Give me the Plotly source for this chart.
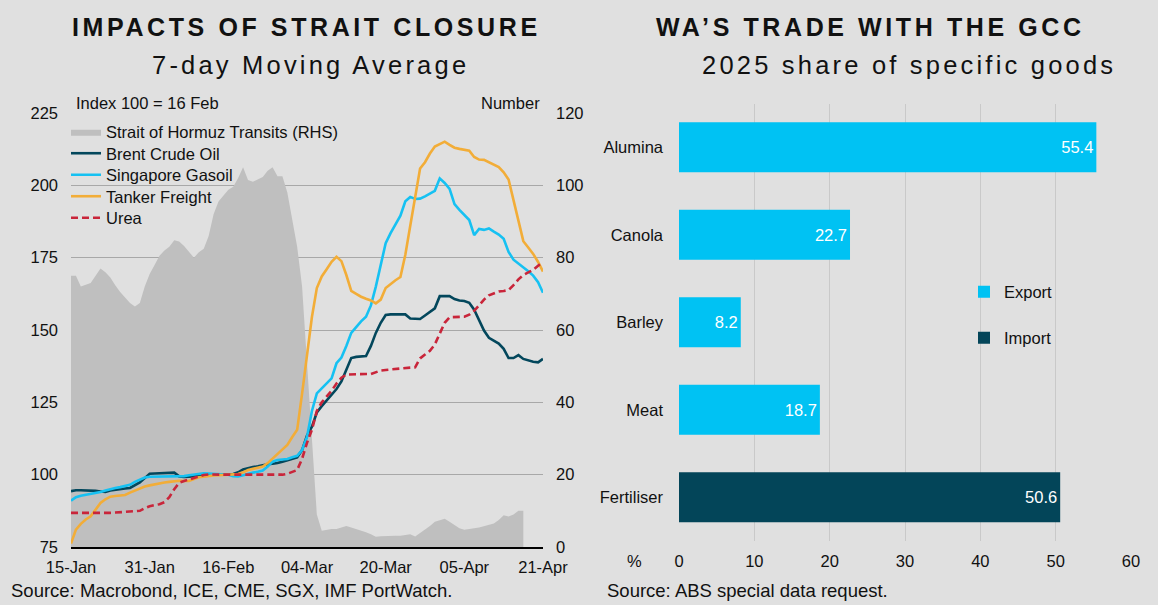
import pandas as pd
import plotly.graph_objects as go

# ---------------- data: left chart (daily, 15-Jan to 21-Apr) ----------------
start_date = "2026-01-15"
end_date = "2026-04-21"
dates = pd.date_range(start_date, end_date, freq="D")

hormuz_transits = [75, 75, 72, 72.5, 73, 75, 77, 76, 74.5, 72.4,
                   70.5, 69, 67.5, 66.5, 67.5, 72, 75.5, 78, 80.5, 82,
                   83, 84.8, 84.5, 83.2, 81.6, 80, 81.5, 82.5, 86, 92,
                   95.5, 97, 98.8, 99.6, 102, 105, 101.5, 101, 101.7, 102.3,
                   104, 105, 102.5, 102.5, 98, 90, 83, 72, 50, 28,
                   9, 4.5, 4.8, 5, 5, 5.5, 5.8, 5.4, 5, 4.6,
                   4.1, 3.5, 2.8, 3, 3.1, 3.1, 3.1, 3.1, 3.2, 3.5,
                   2.9, 3.8, 4.8, 5.8, 7, 7.5, 7.8, 7, 6, 5.2,
                   4.8, 4.9, 5.2, 5.4, 5.7, 6.1, 6.5, 7.5, 8.8, 8.4,
                   9, 10, 10]

brent = [94.3, 94.6, 94.6, 94.6, 94.5, 94.4, 94.2, 94.0, 94.5, 94.8,
         95, 95.2, 95.4, 96.3, 97.3, 98.8, 100.3, 100.4, 100.5, 100.6,
         100.6, 100.7, 99.4, 99.2, 99.3, 99.5, 99.7, 99.9, 100.1, 100.1,
         100.0, 99.9, 100, 100.2, 100.8, 101.8, 102.3, 102.6, 102.9, 103.3,
         103.6, 103.8, 104, 104.5, 105.0, 105.6, 106.0, 108.5, 113.5, 116.6,
         121.5, 123.7, 125.8, 127.6, 129.6, 132.2, 136, 140.3, 140.7, 140.9,
         141, 144.5, 149, 152.5, 155.2, 155.4, 155.4, 155.4, 155.4, 154,
         153.8, 153.8, 155, 156.3, 157.5, 161.7, 161.7, 161.7, 160.7, 160.2,
         160, 159.4, 157, 153.5, 149.8, 147.3, 146.3, 145.3, 143.5, 140.3,
         140.3, 141.3, 140, 139.5, 139, 138.8, 140]

sing_gasoil = [91.0, 92.2, 92.7, 93.0, 93.3, 93.6, 94.0, 94.5, 95.0, 95.4,
               95.7, 96.0, 96.5, 97.5, 98.2, 99.0, 99.3, 99.3, 99.4, 99.5,
               99.5, 99.4, 99.3, 99.5, 99.8, 100.1, 100.4, 100.5, 100.4, 100.3,
               100.2, 100.1, 100, 99.5, 99.4, 99.8, 100.3, 100.7, 101, 101.4,
               102.8, 104.5, 105.1, 105.2, 105.4, 106, 106.5, 108.5, 113, 122,
               128.1, 129.8, 131.5, 133.3, 138.5, 140.5, 144.5, 149, 151, 153,
               154.6, 158.5, 165, 172, 180, 183.5, 186.5, 189.5, 194.5, 196,
               195.3, 195.4, 196.2, 197.2, 198.1, 202.4, 200.8, 198.8, 193.5, 191.5,
               189.8, 188, 182.8, 184.9, 184.6, 185.1, 184, 183, 181.5, 177,
               174.3, 173, 171.8, 170.3, 168.8, 166.5, 162.9]

tanker_freight = [76.2, 81, 83, 84.5, 85.6, 88, 90.2, 91.5, 92.4, 92.6,
                  92.8, 93, 93.8, 94.5, 95.2, 95.9, 96.3, 96.7, 97, 97.3,
                  97.5, 97.7, 97.9, 97.8, 97.8, 98.5, 99.1, 99.3, 99.6, 99.7,
                  99.8, 99.9, 100, 100.1, 100.2, 100.8, 101.6, 102, 102.5, 102.8,
                  104, 105.5, 107, 108.5, 110.3, 113, 115.5, 128, 141, 154.5,
                  164.5, 168.5, 171, 173.6, 175.3, 173.8, 169, 163.5, 162.5, 161.5,
                  160.8, 160.2, 159.2, 160.5, 164.5, 166, 167.2, 168.3, 176, 186,
                  196, 205.8, 208, 211, 213.4, 214.4, 215.1, 214, 213, 212.6,
                  212.3, 212, 209.8, 208.9, 208.8, 208, 207, 206.3, 204.5, 202,
                  194.9, 187.3, 180.7, 178.5, 176.3, 173.5, 170.2]

urea = [86.8, 86.8, 86.7, 86.6, 86.6, 86.6, 86.6, 86.7, 86.8, 86.9,
        87, 87.1, 87.2, 87.4, 87.5, 88.4, 89.1, 89.5, 89.8, 90.5,
        92.2, 95, 97.2, 97.8, 98.3, 98.8, 99.4, 99.9, 100.1, 100,
        100, 100, 100, 100, 100, 100, 100, 100, 100, 100,
        100, 100, 100, 100, 100.3, 101, 101.6, 105.5, 111, 115.5,
        122, 125, 126.9, 129, 131.5, 133.5, 134.6, 134.7, 134.7, 134.8,
        134.8, 134.8, 135.5, 136, 136.2, 136.4, 136.5, 136.6, 136.8, 137,
        137.1, 140.2, 141.5, 142.8, 145, 149, 152.5, 154.4, 154.5, 154.5,
        154.6, 155.3, 156.6, 158.5, 160.5, 162, 162.7, 163.3, 163.5, 163.8,
        165.5, 167.5, 169, 169.8, 170.8, 172.2, 173.6]

x_tick_dates = ["2026-01-15", "2026-01-31", "2026-02-16", "2026-03-04",
                "2026-03-20", "2026-04-05", "2026-04-21"]
x_tick_labels = ["15-Jan", "31-Jan", "16-Feb", "04-Mar", "20-Mar", "05-Apr", "21-Apr"]
left_ticks = [75, 100, 125, 150, 175, 200, 225]
right_ticks = [0, 20, 40, 60, 80, 100, 120]

# ---------------- data: right chart ----------------
export_goods = ["Alumina", "Canola", "Barley", "Meat"]
export_share = [55.4, 22.7, 8.2, 18.7]
import_goods = ["Fertiliser"]
import_share = [50.6]
goods_order = ["Alumina", "Canola", "Barley", "Meat", "Fertiliser"]
share_ticks = [0, 10, 20, 30, 40, 50, 60]

# ---------------- styling ----------------
W, H = 1158, 605
BG = "#e0e0e0"
FONT = "Liberation Sans, Arial, sans-serif"
TXT = "#111111"


def px_x(p):
    return p / W


def px_y(p):
    return 1 - p / H


legend_font = dict(family=FONT, size=16.5, color=TXT)


def legend_box(x, y):
    return dict(x=px_x(x), y=px_y(y), xanchor="left", yanchor="middle",
                bgcolor="rgba(0,0,0,0)", borderwidth=0, itemwidth=30,
                font=legend_font, tracegroupgap=0)


fig = go.Figure()

# Area on base axis (y, right side, Number) so it sits beneath the lines
fig.add_trace(go.Scatter(
    x=dates[:len(hormuz_transits)], y=hormuz_transits,
    name="Strait of Hormuz Transits (RHS)", mode="lines",
    line=dict(color="#bfbfbf", width=0), fill="tozeroy", fillcolor="#bfbfbf",
    xaxis="x", yaxis="y", legend="legend", hoverinfo="skip"))

line_series = [
    ("Brent Crude Oil", brent, "#03475c", "solid", "legend3"),
    ("Singapore Gasoil", sing_gasoil, "#16c1f2", "solid", "legend4"),
    ("Tanker Freight", tanker_freight, "#f2ad38", "solid", "legend5"),
    ("Urea", urea, "#c9253a", "7px,4px", "legend6"),
]
for name, vals, col, dash, leg in line_series:
    fig.add_trace(go.Scatter(
        x=dates, y=vals, name=name, mode="lines",
        line=dict(color=col, width=2.6, dash=dash),
        xaxis="x", yaxis="y2", legend=leg))

# Right chart bars
fig.add_trace(go.Bar(
    x=export_share, y=export_goods, orientation="h", name="Export",
    marker=dict(color="#00c2f3", line=dict(width=0)),
    text=[f"{v:.1f}" for v in export_share], textposition="inside",
    insidetextanchor="end", textangle=0,
    textfont=dict(color="white", size=16.5, family=FONT),
    xaxis="x2", yaxis="y3", legend="legend2"))
fig.add_trace(go.Bar(
    x=import_share, y=import_goods, orientation="h", name="Import",
    marker=dict(color="#034559", line=dict(width=0)),
    text=[f"{v:.1f}" for v in import_share], textposition="inside",
    insidetextanchor="end", textangle=0,
    textfont=dict(color="white", size=16.5, family=FONT),
    xaxis="x2", yaxis="y3", legend="legend7"))

tickfont = dict(family=FONT, size=16.5, color=TXT)

fig.update_layout(
    width=W, height=H,
    margin=dict(l=0, r=0, t=0, b=0, autoexpand=False),
    paper_bgcolor=BG, plot_bgcolor=BG,
    font=dict(family=FONT, color=TXT),
    barmode="overlay", bargap=0.43,
    showlegend=True,
    xaxis=dict(
        type="date", domain=[px_x(71), px_x(543)],
        range=[start_date, end_date],
        tickvals=x_tick_dates, ticktext=x_tick_labels,
        showgrid=False, zeroline=False, showline=True,
        linecolor="#000000", linewidth=2, ticks="", automargin=False,
        tickfont=tickfont, ticklabelstandoff=4, anchor="y"),
    yaxis=dict(
        domain=[px_y(547), px_y(113)], range=[0, 120],
        tickvals=right_ticks, side="right",
        showgrid=True, gridcolor="#a8a8a8", gridwidth=1.3,
        zeroline=False, showline=False, ticks="", automargin=False,
        tickfont=tickfont, ticklabelstandoff=12, anchor="x"),
    yaxis2=dict(
        range=[75, 225], tickvals=left_ticks, overlaying="y", side="left",
        showgrid=False, zeroline=False, showline=False, ticks="", automargin=False,
        tickfont=tickfont, ticklabelstandoff=12, anchor="x"),
    xaxis2=dict(
        domain=[px_x(679), px_x(1131)], range=[0, 60],
        tickvals=share_ticks, showgrid=True, gridcolor="#c9c9c9", gridwidth=1.3,
        zeroline=False, showline=False, ticks="", automargin=False,
        tickfont=tickfont, ticklabelstandoff=8, anchor="y3"),
    yaxis3=dict(
        domain=[px_y(541), px_y(103.5)], type="category",
        categoryorder="array", categoryarray=goods_order, autorange="reversed",
        showgrid=False, zeroline=False, showline=False, ticks="", automargin=False,
        tickfont=tickfont, ticklabelstandoff=15, anchor="x2"),
    legend=legend_box(66, 132),
    legend3=legend_box(66, 153.5),
    legend4=legend_box(66, 175),
    legend5=legend_box(66, 196.5),
    legend6=legend_box(66, 218),
    legend2=legend_box(964, 292),
    legend7=legend_box(964, 338),
)

ann = []


def add_text(text, x, y, size, xanchor="center", bold=False, spacing=None):
    t = text
    if spacing is not None:
        t = f'<span style="letter-spacing:{spacing}px">{t}</span>'
    if bold:
        t = f"<b>{t}</b>"
    ann.append(dict(text=t, x=px_x(x), y=px_y(y), xref="paper", yref="paper",
                    xanchor=xanchor, yanchor="middle", showarrow=False,
                    font=dict(family=FONT, size=size, color=TXT)))


add_text("IMPACTS OF STRAIT CLOSURE", 306, 27, 25, bold=True, spacing=3.6)
add_text("7-day Moving Average", 311, 65, 25.5, spacing=3.2)
add_text("WA\u2019S TRADE WITH THE GCC", 870, 27, 25, bold=True, spacing=3.6)
add_text("2025 share of specific goods", 909, 65, 25.5, spacing=3.2)
add_text("Index 100 = 16 Feb", 74, 103, 16.5, xanchor="left")
add_text("Number", 542, 103, 16.5, xanchor="right")
add_text("Source: Macrobond, ICE, CME, SGX, IMF PortWatch.", 9, 590, 18.5, xanchor="left")
add_text("Source: ABS special data request.", 605, 590, 18.5, xanchor="left")
add_text("%", 634, 561, 16.5)

fig.update_layout(annotations=ann)

fig.write_html(
    "out.html",
    config={"displayModeBar": False},
    post_script="document.body.style.margin='0px';"
                "document.documentElement.style.background='" + BG + "';")
